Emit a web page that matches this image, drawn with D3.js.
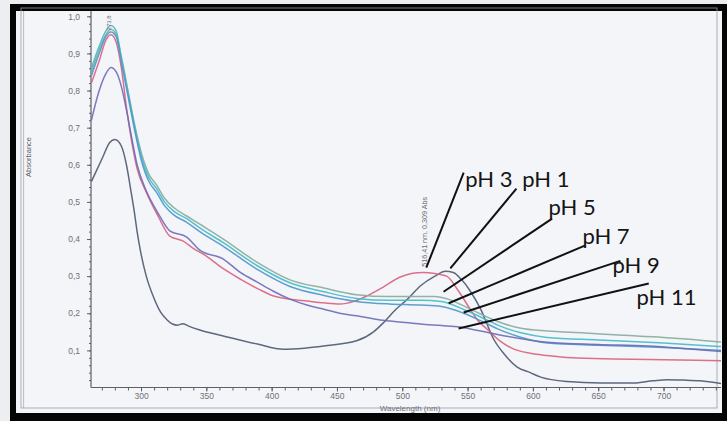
<!DOCTYPE html>
<html>
<head>
<meta charset="utf-8">
<script src="https://cdn.jsdelivr.net/npm/d3@7"></script>
<style>
  html, body { margin: 0; padding: 0; background: #eef0f3; }
  svg { display: block; }
</style>
</head>
<body>
<svg id="chart" width="727" height="421"></svg>
<script>
// spectra, [wavelength nm, absorbance]
var ph1 = [[262, 0.555], [266, 0.585], [271, 0.623], [276, 0.66], [280, 0.668], [285, 0.65], [289, 0.597],
  [292, 0.535], [295, 0.47], [297, 0.42], [300, 0.36], [304, 0.30], [310, 0.24], [315, 0.203], [320, 0.182],
  [324, 0.171], [328, 0.168], [332, 0.172], [336, 0.166], [345, 0.155], [363, 0.139], [389, 0.117],
  [409, 0.103], [425, 0.106], [440, 0.112], [465, 0.126], [478, 0.15], [486, 0.176], [495, 0.21],
  [504, 0.238], [514, 0.274], [525, 0.30], [533, 0.313], [539, 0.31], [545, 0.292], [552, 0.26],
  [560, 0.211], [570, 0.13], [578, 0.09], [588, 0.055], [598, 0.04], [606, 0.028], [626, 0.016],
  [652, 0.012], [677, 0.012], [692, 0.018], [703, 0.021], [715, 0.02], [728, 0.018], [745, 0.01]]

var ph3 = [[262, 0.82], [268, 0.88], [273, 0.935], [277, 0.95], [281, 0.93], [285, 0.86], [289, 0.75],
  [293, 0.66], [297, 0.59], [304, 0.526], [313, 0.462], [322, 0.408], [332, 0.395], [340, 0.375],
  [350, 0.354], [363, 0.32], [376, 0.292], [390, 0.265], [401, 0.247], [414, 0.238], [427, 0.233],
  [440, 0.228], [452, 0.225], [463, 0.232], [473, 0.247], [486, 0.272], [498, 0.297], [508, 0.308],
  [516, 0.31], [525, 0.307], [534, 0.30], [543, 0.26], [552, 0.211], [558, 0.18], [565, 0.157],
  [575, 0.125], [585, 0.104], [598, 0.092], [611, 0.086], [630, 0.08], [662, 0.077], [700, 0.075], [745, 0.072]]

var ph5 = [[262, 0.85], [268, 0.91], [273, 0.95], [277, 0.965], [281, 0.95], [285, 0.89], [290, 0.80],
  [295, 0.71], [300, 0.635], [306, 0.575], [312, 0.545], [318, 0.51], [325, 0.485], [335, 0.462],
  [345, 0.44], [363, 0.40], [389, 0.337], [414, 0.29], [440, 0.268], [465, 0.25], [490, 0.245],
  [514, 0.245], [525, 0.245], [535, 0.238], [547, 0.22], [560, 0.198], [573, 0.178], [590, 0.16],
  [611, 0.152], [640, 0.147], [662, 0.142], [700, 0.135], [720, 0.13], [745, 0.122]]

var ph7 = [[262, 0.86], [268, 0.92], [273, 0.96], [277, 0.975], [281, 0.96], [285, 0.885], [290, 0.795],
  [295, 0.704], [300, 0.625], [306, 0.565], [312, 0.535], [318, 0.50], [325, 0.475], [335, 0.455],
  [345, 0.43], [363, 0.39], [389, 0.328], [414, 0.282], [440, 0.258], [465, 0.24], [490, 0.235],
  [514, 0.235], [530, 0.232], [547, 0.21], [560, 0.19], [573, 0.168], [590, 0.148], [611, 0.135],
  [650, 0.128], [700, 0.12], [745, 0.11]]

var ph9 = [[262, 0.84], [268, 0.90], [273, 0.945], [277, 0.958], [281, 0.945], [285, 0.875], [290, 0.785],
  [295, 0.695], [300, 0.615], [306, 0.555], [312, 0.525], [318, 0.49], [325, 0.465], [335, 0.445],
  [345, 0.42], [363, 0.38], [389, 0.318], [414, 0.272], [440, 0.248], [465, 0.232], [490, 0.225],
  [514, 0.222], [530, 0.218], [547, 0.20], [560, 0.18], [573, 0.158], [590, 0.136], [611, 0.12],
  [650, 0.114], [700, 0.108], [745, 0.10]]

var ph11 = [[262, 0.72], [268, 0.80], [273, 0.845], [277, 0.862], [281, 0.85], [285, 0.81], [289, 0.745],
  [293, 0.67], [297, 0.60], [304, 0.53], [313, 0.47], [322, 0.422], [335, 0.405], [345, 0.37],
  [363, 0.346], [376, 0.31], [389, 0.284], [401, 0.26], [414, 0.238], [427, 0.222], [440, 0.211],
  [452, 0.20], [465, 0.193], [483, 0.182], [500, 0.176], [514, 0.171], [530, 0.167], [544, 0.163],
  [560, 0.152], [580, 0.138], [611, 0.122], [650, 0.116], [688, 0.112], [720, 0.104], [745, 0.097]]

var seriesNames = ['pH 1', 'pH 3', 'pH 5', 'pH 7', 'pH 9', 'pH 11']
var seriesData = [ph1, ph3, ph5, ph7, ph9, ph11]
var seriesColors = ['#4d5872', '#d9607f', '#86ab9c', '#3fbcc8', '#4f95c9', '#6b6cb8']

var xTicks = [300, 350, 400, 450, 500, 550, 600, 650, 700]
var yTicks = [0.1, 0.2, 0.3, 0.4, 0.5, 0.6, 0.7, 0.8, 0.9, 1.0]

// callouts: label anchor (nm, abs), line start (nm, abs), line end (nm, abs)
var calloutLabels = ['pH 3', 'pH 1', 'pH 5', 'pH 7', 'pH 9', 'pH 11']
var calloutText = [[548.3, 0.541], [591.9, 0.541], [611.9, 0.465], [637.9, 0.386], [660.9, 0.308], [679.3, 0.222]]
var calloutFrom = [[547, 0.579], [587.4, 0.536], [614.7, 0.455], [640.2, 0.383], [667, 0.341], [688.7, 0.28]]
var calloutTo = [[518.4, 0.323], [536.8, 0.321], [531.6, 0.258], [535.5, 0.227], [547, 0.202], [543.1, 0.159]]

var peakNotes = [['516,41 nm, 0,309 Abs', 518.8, 0.325, 7.2], ['273,8', 276.8, 0.962, 6]]

var svg = d3.select('#chart')

var plot = { left: 91, right: 721, top: 11, bottom: 387.5 }

var x = d3.scaleLinear().domain([261.7, 744]).range([plot.left, plot.right])
var y = d3.scaleLinear().domain([0, 1]).range([387.5, 16.3])

// paper
svg.append('rect').attr('x', 0).attr('y', 0).attr('width', 727).attr('height', 421).attr('fill', '#eceef1')
svg.append('rect').attr('x', 10).attr('y', 4).attr('width', 717).attr('height', 417).attr('fill', '#050505')
svg.append('rect').attr('x', 16).attr('y', 11).attr('width', 706).attr('height', 402).attr('fill', '#f4f5f8')

// scan frame lines
svg.append('rect').attr('x', 21).attr('y', 8).attr('width', 696).attr('height', 400)
  .attr('fill', 'none').attr('stroke', '#9a9ca3').attr('stroke-width', 0.8)
svg.append('line').attr('x1', 23.6).attr('x2', 23.6).attr('y1', 11).attr('y2', 408)
  .attr('stroke', '#a9abb1').attr('stroke-width', 0.8)

svg.append('defs').append('clipPath').attr('id', 'plotclip')
  .append('rect').attr('x', plot.left).attr('y', plot.top)
  .attr('width', plot.right - plot.left).attr('height', plot.bottom - plot.top)

// axes
var axisColor = '#5d6068'
var gx = svg.append('g').attr('transform', 'translate(0,' + plot.bottom + ')')
gx.call(d3.axisBottom(x).tickValues(d3.range(270, 745, 10)).tickSize(3).tickFormat(''))
gx.append('g').call(d3.axisBottom(x).tickValues(xTicks).tickSize(4).tickFormat(d3.format('d')))
gx.selectAll('.domain').remove()
gx.selectAll('line').attr('stroke', axisColor)
gx.selectAll('text').attr('fill', '#6e7077').attr('font-size', 8.5)
  .attr('font-family', 'Liberation Sans, Arial, sans-serif').attr('dy', '0.55em')

var gy = svg.append('g').attr('transform', 'translate(' + plot.left + ',0)')
gy.call(d3.axisLeft(y).tickValues(d3.range(0.02, 1.01, 0.02)).tickSize(2).tickFormat(''))
gy.append('g').call(d3.axisLeft(y).tickValues(yTicks).tickSize(4)
  .tickFormat(function (d) { return d3.format('.1f')(d).replace('.', ',') }))
gy.selectAll('.domain').remove()
gy.selectAll('line').attr('stroke', axisColor)
gy.selectAll('text').attr('fill', '#6e7077').attr('font-size', 8.5)
  .attr('font-family', 'Liberation Sans, Arial, sans-serif').attr('dx', '-4')

svg.append('line').attr('x1', plot.left).attr('x2', plot.left).attr('y1', plot.top).attr('y2', plot.bottom)
  .attr('stroke', axisColor).attr('stroke-width', 1.2)
svg.append('line').attr('x1', plot.left).attr('x2', plot.right).attr('y1', plot.bottom).attr('y2', plot.bottom)
  .attr('stroke', axisColor).attr('stroke-width', 1.2)

svg.append('text')
  .attr('transform', 'translate(31,157) rotate(-90)')
  .attr('text-anchor', 'middle')
  .attr('font-family', 'Liberation Sans, Arial, sans-serif')
  .attr('font-size', 7.5).attr('fill', '#5d6068')
  .text('Absorbance')

svg.append('text')
  .attr('x', 410).attr('y', 411)
  .attr('text-anchor', 'middle')
  .attr('font-family', 'Liberation Sans, Arial, sans-serif')
  .attr('font-size', 8).attr('fill', '#6e7077')
  .text('Wavelength (nm)')

// spectra
var line = d3.line()
  .x(function (d) { return x(d[0]) })
  .y(function (d) { return y(d[1]) })
  .curve(d3.curveMonotoneX)

var curves = svg.append('g').attr('clip-path', 'url(#plotclip)')
curves.selectAll('path')
  .data(seriesData)
  .join('path')
  .attr('d', line)
  .attr('fill', 'none')
  .attr('stroke', function (d, i) { return seriesColors[i] })
  .attr('stroke-width', 1.5)
  .attr('stroke-opacity', 0.9)
  .append('title').text(function (d, i) { return seriesNames[i] })

// peak markers text (vertical)
svg.append('g').selectAll('text')
  .data(peakNotes)
  .join('text')
  .attr('transform', function (d) { return 'translate(' + x(d[1]) + ',' + y(d[2]) + ') rotate(-90)' })
  .attr('font-family', 'Liberation Sans, Arial, sans-serif')
  .attr('font-size', function (d) { return d[3] })
  .attr('fill', '#6a6c74')
  .text(function (d) { return d[0] })

// callouts
var callouts = svg.append('g')
callouts.selectAll('line')
  .data(calloutLabels)
  .join('line')
  .attr('x1', function (d, i) { return x(calloutFrom[i][0]) })
  .attr('y1', function (d, i) { return y(calloutFrom[i][1]) })
  .attr('x2', function (d, i) { return x(calloutTo[i][0]) })
  .attr('y2', function (d, i) { return y(calloutTo[i][1]) })
  .attr('stroke', '#111')
  .attr('stroke-width', 2)

callouts.selectAll('text')
  .data(calloutLabels)
  .join('text')
  .attr('x', function (d, i) { return x(calloutText[i][0]) })
  .attr('y', function (d, i) { return y(calloutText[i][1]) })
  .attr('font-family', 'Lato, Open Sans, sans-serif')
  .attr('font-size', 22)
  .attr('fill', '#151515')
  .text(function (d) { return d })
</script>
</body>
</html>
